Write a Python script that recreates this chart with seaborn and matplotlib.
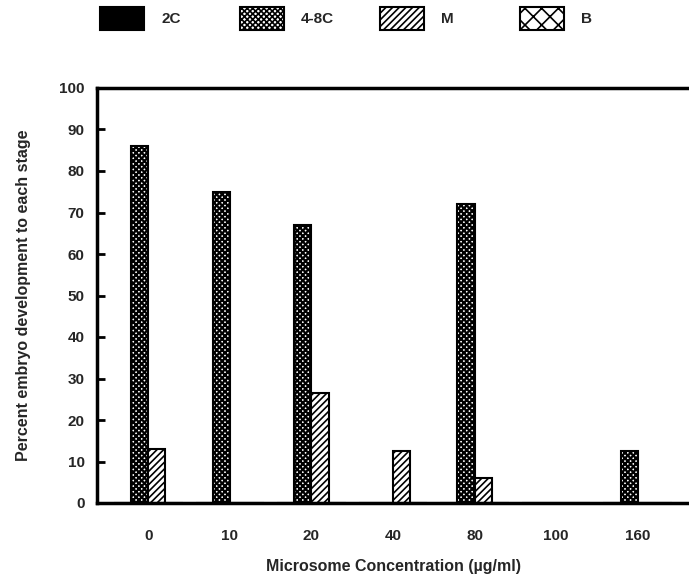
import matplotlib
matplotlib.use("Agg")
import matplotlib.pyplot as plt
import seaborn as sns
import pandas as pd
from matplotlib.patches import Patch

concentrations = ["0", "10", "20", "40", "80", "100", "160"]
stages = ["2C", "4-8C", "M", "B"]
v_2c = [0, 0, 0, 0, 0, 0, 0]
v_48c = [86, 75, 67, 0, 72, 0, 12.5]
v_m = [13, 0, 26.5, 12.5, 6, 0, 0]
v_b = [0, 0, 0, 0, 0, 0, 0]

rows = []
for stage, vals in zip(stages, [v_2c, v_48c, v_m, v_b]):
    for c, v in zip(concentrations, vals):
        rows.append({"conc": c, "stage": stage, "value": v})
df = pd.DataFrame(rows)

sns.set_theme(style="white")
plt.rcParams["font.family"] = ["Liberation Sans", "DejaVu Sans"]
plt.rcParams["hatch.linewidth"] = 1.2

fig = plt.figure(figsize=(6.89, 5.83), dpi=100)
ax = fig.add_axes([97 / 689, 80 / 583, 1 - 97 / 689, 415 / 583])

sns.barplot(data=df, x="conc", y="value", hue="stage", order=concentrations,
            hue_order=stages, palette=["white"] * 4, width=0.84,
            edgecolor="black", linewidth=1.5, ax=ax, legend=False)

styles = {
    "2C": dict(facecolor="black", hatch=None, hlw=1.2),
    "4-8C": dict(facecolor="white", hatch="xxxxxx", hlw=1.6),
    "M": dict(facecolor="white", hatch="/////", hlw=1.2),
    "B": dict(facecolor="white", hatch="xx", hlw=1.2),
}


def style_patch(p, st):
    p.set_facecolor(styles[st]["facecolor"])
    if styles[st]["hatch"]:
        p.set_hatch(styles[st]["hatch"])
        try:
            p.set_hatch_linewidth(styles[st]["hlw"])
        except AttributeError:
            pass
    p.set_edgecolor("black")


for cont, st in zip(ax.containers, stages):
    for p in cont:
        style_patch(p, st)

ax.set_ylim(0, 100)
ax.set_xlim(-0.63, 6.63)
ax.set_yticks(range(0, 101, 10))
ax.tick_params(axis="y", direction="in", length=6, width=2, color="black",
               labelsize=11, pad=9, left=True)
ax.tick_params(axis="x", length=0, labelsize=11, pad=19)
for lab in ax.get_xticklabels() + ax.get_yticklabels():
    lab.set_fontweight("bold")

for s in ["left", "bottom", "top"]:
    ax.spines[s].set_visible(True)
    ax.spines[s].set_color("black")
    ax.spines[s].set_linewidth(2.5)
ax.spines["right"].set_visible(False)

ax.set_xlabel("Microsome Concentration (\u00b5g/ml)", fontsize=11.5,
              fontweight="bold", labelpad=11)
ax.set_ylabel("Percent embryo development to each stage", fontsize=11.5,
              fontweight="bold", labelpad=20)

legend_x = [100, 240, 380, 520]
for s, x0 in zip(stages, legend_x):
    h = Patch(facecolor="white", edgecolor="black", linewidth=1.5)
    style_patch(h, s)
    fig.legend([h], [s], loc="upper left",
               bbox_to_anchor=(x0 / 689, 1 - 7 / 583),
               frameon=False, handlelength=2.9, handleheight=1.9,
               handletextpad=1.1, borderpad=0, borderaxespad=0,
               prop={"weight": "bold", "size": 11})

fig.savefig("out.png", dpi=100)
